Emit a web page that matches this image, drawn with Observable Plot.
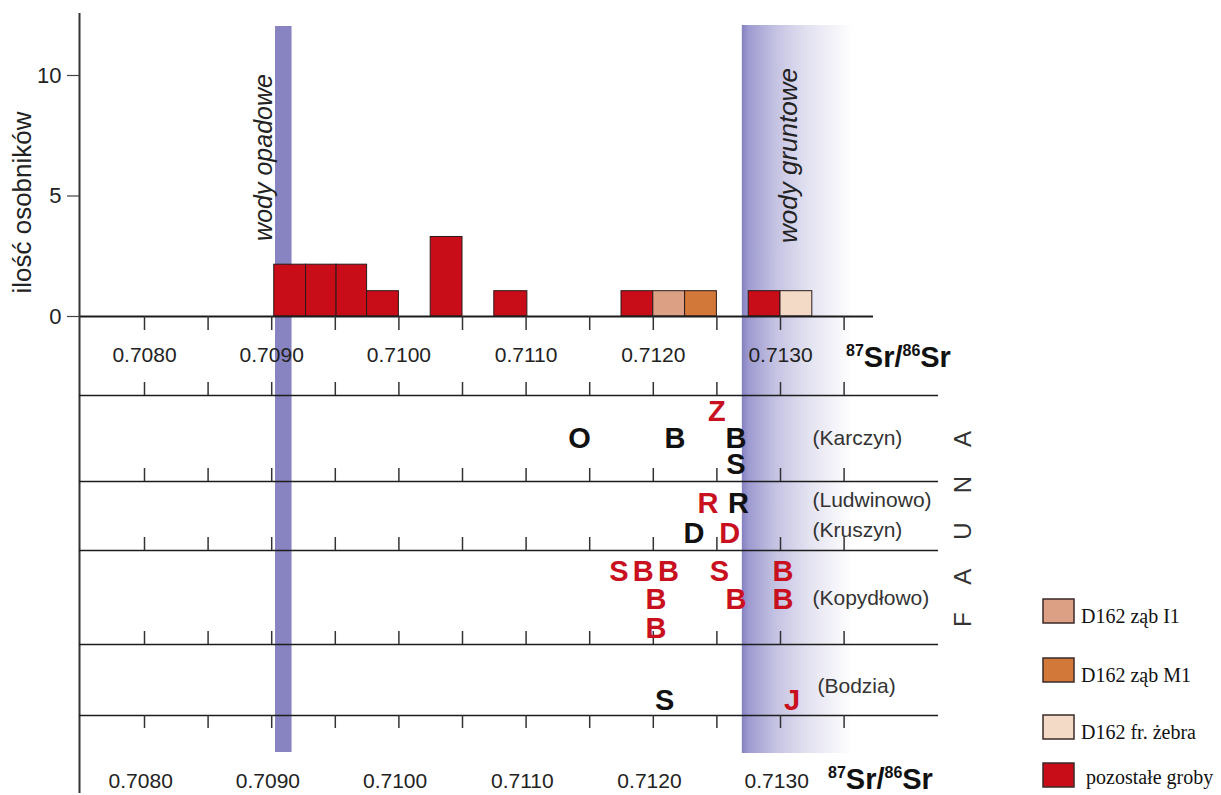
<!DOCTYPE html>
<html><head><meta charset="utf-8">
<script src="https://cdn.jsdelivr.net/npm/d3@7"></script>
<script src="https://cdn.jsdelivr.net/npm/@observablehq/plot@0.6"></script>
<style>
body{margin:0;background:#fff;}
#chart{position:relative;width:1221px;height:795px;overflow:hidden;}
</style></head><body><div id="chart"></div>
<script>
// ---------- DATA ----------
// histogram bars (87Sr/86Sr bin edges and counts)
const barLo    = [0.70902, 0.70927, 0.70951, 0.70975, 0.71025, 0.71075, 0.71175, 0.71200, 0.71225, 0.71275, 0.71300];
const barHi    = [0.70927, 0.70951, 0.70975, 0.71000, 0.71050, 0.71101, 0.71200, 0.71225, 0.71250, 0.71300, 0.71325];
const barCount = [2.15, 2.15, 2.15, 1.05, 3.3, 1.05, 1.05, 1.05, 1.05, 1.05, 1.05];
const barGroup = ["pozostałe groby","pozostałe groby","pozostałe groby","pozostałe groby","pozostałe groby","pozostałe groby",
                  "pozostałe groby","D162 ząb I1","D162 ząb M1","pozostałe groby","D162 fr. żebra"];
const legendGroups = ["D162 ząb I1", "D162 ząb M1", "D162 fr. żebra", "pozostałe groby"];
const legendColors = ["#dca184", "#d27838", "#f2dac6", "#c80c18"];

// reference ranges
const rainBand   = [0.70903, 0.70916];   // wody opadowe
const groundBand = [0.71270, 0.71357];   // wody gruntowe

// axis ticks
const xTicks = [0.7080, 0.7085, 0.7090, 0.7095, 0.7100, 0.7105, 0.7110, 0.7115, 0.7120, 0.7125, 0.7130, 0.7135];
const xLabelValues = [0.7080, 0.7090, 0.7100, 0.7110, 0.7120, 0.7130];
const xLabels = ["0.7080", "0.7090", "0.7100", "0.7110", "0.7120", "0.7130"];
const yTicks = [0, 5, 10];

// fauna
const sites = ["Karczyn", "Ludwinowo", "Kruszyn", "Kopydłowo", "Bodzia"];
const faunaLetter = ["Z","O","B","B","S", "R","R", "D","D", "S","B","B","S","B","B","B","B","B", "S","J"];
const faunaSr     = [0.71250,0.71142,0.71217,0.71265,0.71265, 0.71243,0.71267, 0.71232,0.71260,
                     0.71173,0.71192,0.71212,0.71252,0.71302,0.71202,0.71265,0.71302,0.71202, 0.71209,0.71309];
const faunaSite   = ["Karczyn","Karczyn","Karczyn","Karczyn","Karczyn","Ludwinowo","Ludwinowo","Kruszyn","Kruszyn",
                     "Kopydłowo","Kopydłowo","Kopydłowo","Kopydłowo","Kopydłowo","Kopydłowo","Kopydłowo","Kopydłowo","Kopydłowo",
                     "Bodzia","Bodzia"];
const faunaTier   = [-1,0,0,0,1, 0,0, 0,0, 0,0,0,0,0,1,1,1,2, 0,0];
const faunaRed    = [true,false,false,false,false, true,false, false,true, true,true,true,true,true,true,true,true,true, false,true];

// ---------- LAYOUT ----------
const sx = Plot.scale({x: {domain: [0.708, 0.713], range: [144, 780]}});
const sy = Plot.scale({y: {domain: [0, 10], range: [316, 75]}});
const X = p => sx.invert(p);
const Y = p => sy.invert(p);

const siteCenterPx = {"Karczyn": 438, "Ludwinowo": 503, "Kruszyn": 533, "Kopydłowo": 571, "Bodzia": 700};
const tierGap = {"Karczyn": 26.5, "Kopydłowo": 28.5};
const siteLabelPx = {"Karczyn": [812, 438], "Ludwinowo": [812, 500], "Kruszyn": [812, 530], "Kopydłowo": [812, 598], "Bodzia": [817, 686]};
const rowLinesPx = [395, 481, 550, 644, 715];
const rowTickDir = [-1, -1, -1, -1, 1];

const bars = barLo.map((lo, i) => ({lo, hi: barHi[i], n: barCount[i], group: barGroup[i]}));
const fauna = faunaLetter.map((t, i) => ({t, sr: faunaSr[i], site: faunaSite[i], tier: faunaTier[i], red: faunaRed[i]}));
const faunaTicks = [];
rowLinesPx.forEach((p, r) => xTicks.forEach(v => faunaTicks.push({v, y1: Y(p), y2: Y(p + 13 * rowTickDir[r])})));

const RED = "#c8101e", INK = "#1c1c1c";
const SANS = "Liberation Sans, Arial, Helvetica, sans-serif";

const plot = Plot.plot({
  width: 1221, height: 795,
  marginTop: 0, marginRight: 0, marginBottom: 0, marginLeft: 0,
  x: {domain: [0.708, 0.713], range: [144, 780], axis: null},
  y: {domain: [0, 10], range: [316, 75], axis: null},
  color: {domain: legendGroups, range: legendColors},
  style: {fontFamily: SANS, background: "white", overflow: "visible"},
  marks: [
    // reference water bands
    Plot.rect([0], {x1: rainBand[0], x2: rainBand[1], y1: Y(752), y2: Y(26), fill: "#8884c2"}),
    Plot.rect([0], {x1: groundBand[0], x2: groundBand[1], y1: Y(753), y2: Y(25), fill: "url(#groundGrad)"}),
    // histogram
    Plot.rect(bars, {x1: "lo", x2: "hi", y1: 0, y2: "n", fill: "group", stroke: "#2b1a1a", strokeWidth: 1}),
    // top axis
    Plot.ruleY([0], {x1: X(79), x2: X(873), stroke: INK, strokeWidth: 1.8}),
    Plot.ruleX(xTicks, {y1: 0, y2: Y(330), stroke: "#333", strokeWidth: 1.5}),
    Plot.text(xLabelValues, {x: d => d, y: Y(355), text: (d, i) => xLabels[i], fontSize: 21, fill: "#222", lineAnchor: "middle"}),
    // y axis
    Plot.ruleX([0], {x: X(79), y1: Y(13), y2: Y(793), stroke: "#333", strokeWidth: 2}),
    Plot.ruleY(yTicks, {x1: X(67), x2: X(79), stroke: "#444", strokeWidth: 1.2}),
    Plot.text(yTicks, {x: X(61), y: d => d, text: d => String(d), textAnchor: "end", fontSize: 22, fill: "#222", lineAnchor: "middle"}),
    Plot.text(["ilość osobników"], {x: X(22), y: Y(202), text: d => d, rotate: -90, fontSize: 26, fill: "#222", lineAnchor: "middle"}),
    // band labels
    Plot.text(["wody opadowe"], {x: X(263), y: Y(157), text: d => d, rotate: -90, fontStyle: "italic", fontSize: 25, fill: "#222", lineAnchor: "middle"}),
    Plot.text(["wody gruntowe"], {x: X(788), y: Y(155), text: d => d, rotate: -90, fontStyle: "italic", fontSize: 26, fill: "#222", lineAnchor: "middle"}),
    // fauna panel
    Plot.ruleY(rowLinesPx.map(Y), {x1: X(79), x2: X(938), stroke: INK, strokeWidth: 1.6}),
    Plot.ruleX(faunaTicks, {x: "v", y1: "y1", y2: "y2", stroke: "#333", strokeWidth: 1.5}),
    Plot.text(fauna, {x: "sr", y: d => Y(siteCenterPx[d.site] + d.tier * (tierGap[d.site] || 27)), text: "t",
      fill: d => d.red ? RED : "#111", fontWeight: "bold", fontSize: 29, lineAnchor: "middle"}),
    Plot.text(sites, {x: d => X(siteLabelPx[d][0]), y: d => Y(siteLabelPx[d][1]), text: d => `(${d})`,
      textAnchor: "start", fontSize: 21, fill: "#333", lineAnchor: "middle"}),
    // bottom labels
    Plot.text(xLabelValues, {x: d => d - 0.00003, y: Y(781), text: (d, i) => xLabels[i], fontSize: 21, fill: "#222", lineAnchor: "middle"})
  ]
});

document.getElementById("chart").appendChild(plot);

// ---------- annotations via d3 ----------
const svg = d3.select(plot);
const defs = svg.insert("defs", ":first-child");
const g = defs.append("linearGradient").attr("id", "groundGrad").attr("x1", "0").attr("x2", "1").attr("y1", "0").attr("y2", "0");
[[0, "#8480c0"], [0.06, "#9d9ad0"], [0.3, "#c4c2e2"], [0.6, "#e3e2f1"], [1, "#ffffff"]]
  .forEach(([o, c]) => g.append("stop").attr("offset", o).attr("stop-color", c));

function srLabel(x, y) {
  const t = svg.append("text").attr("x", x).attr("y", y).attr("text-anchor", "start")
    .attr("font-family", SANS).attr("font-weight", "bold").attr("fill", "#111");
  t.append("tspan").attr("font-size", 16).attr("dy", -11).text("87");
  t.append("tspan").attr("font-size", 29).attr("dy", 11).text("Sr/");
  t.append("tspan").attr("font-size", 16).attr("dy", -11).text("86");
  t.append("tspan").attr("font-size", 29).attr("dy", 11).text("Sr");
}
srLabel(846, 367);
srLabel(828, 789);

svg.append("text").attr("transform", "translate(971,627) rotate(-90)").attr("text-anchor", "start")
  .attr("font-family", SANS).attr("font-size", 24).attr("letter-spacing", 29).attr("fill", "#333").text("FAUNA");

const legTops = [599, 658, 715, 763];
const lg = svg.append("g");
legendGroups.forEach((name, i) => {
  lg.append("rect").attr("x", 1043).attr("y", legTops[i]).attr("width", 31).attr("height", 24)
    .attr("fill", legendColors[i]).attr("stroke", "#3a2a2a").attr("stroke-width", 1.5);
  lg.append("text").attr("x", i === 3 ? 1086 : 1081).attr("y", legTops[i] + (i === 3 ? 21 : 24)).attr("text-anchor", "start")
    .attr("font-family", "Liberation Serif, Times New Roman, serif").attr("font-size", 20).attr("fill", "#111").text(name);
});
</script>
</body></html>
